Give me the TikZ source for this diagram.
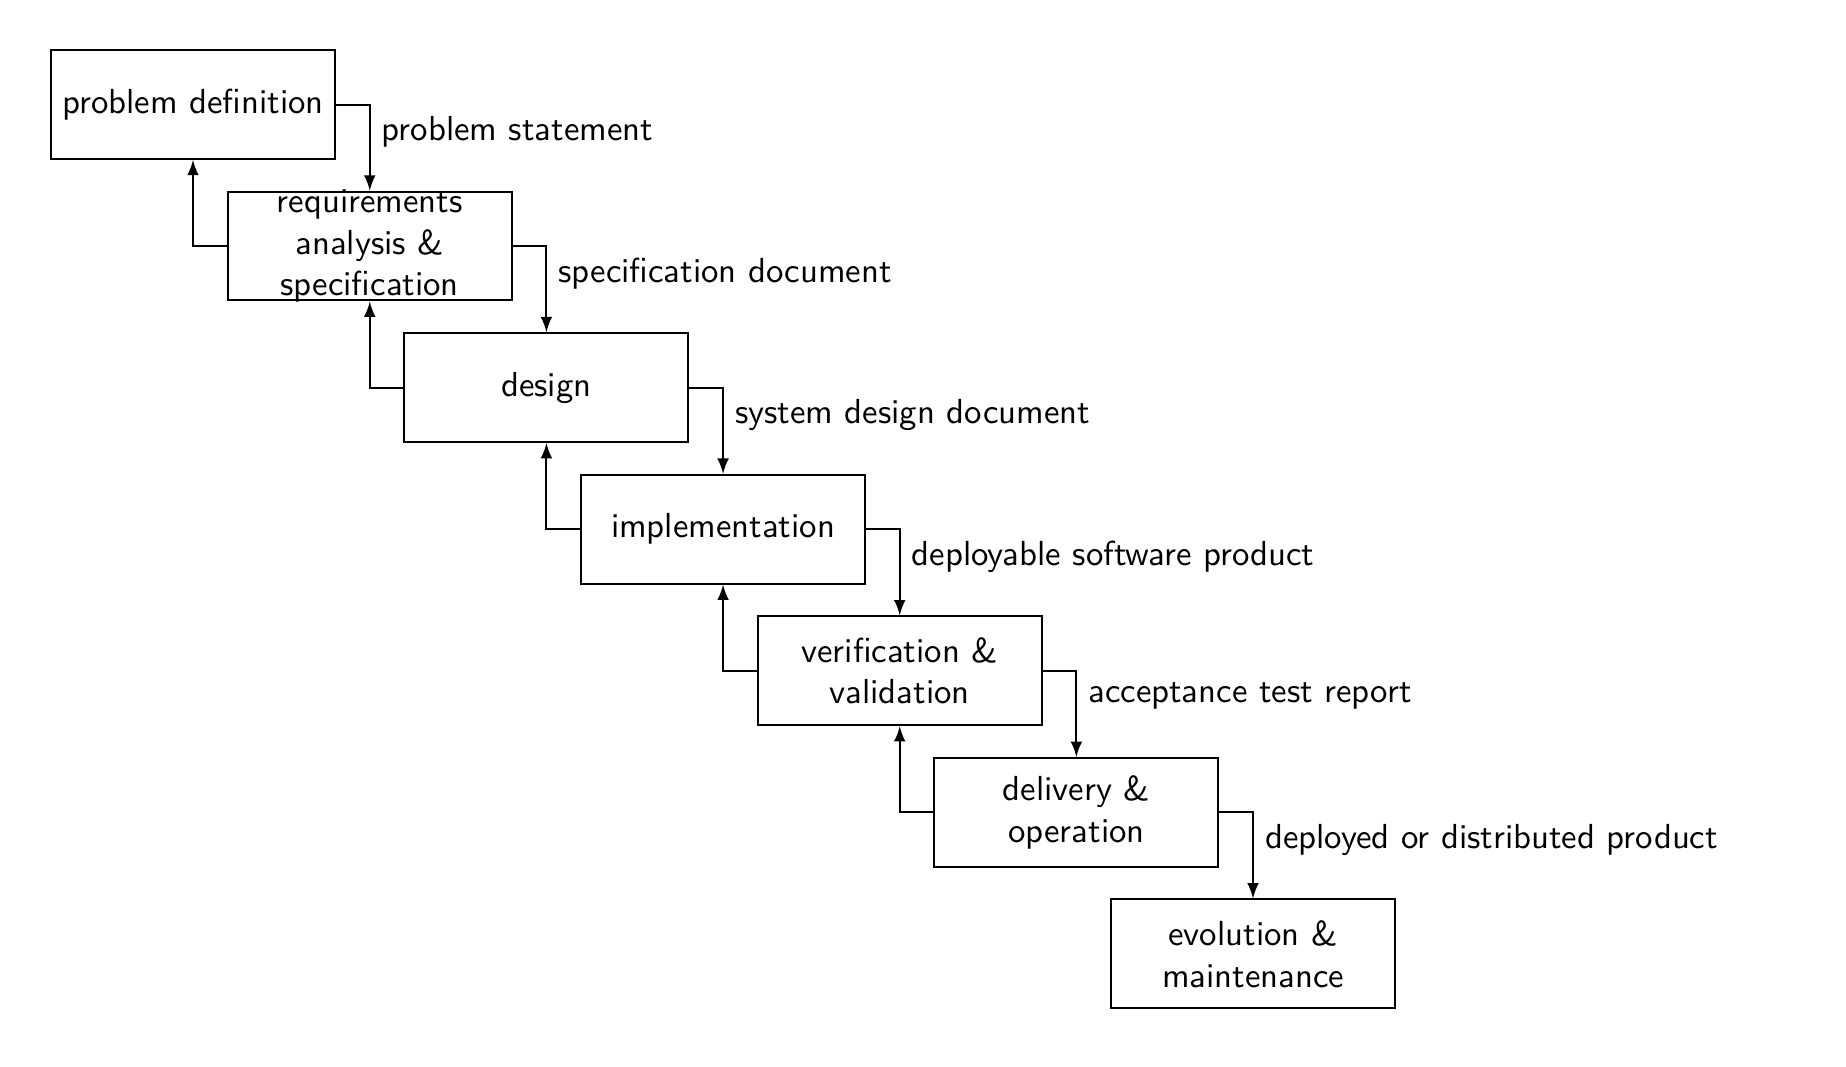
\documentclass[tikz,border=0pt]{standalone}
\usepackage{tikz}
\usetikzlibrary{arrows}
\renewcommand{\familydefault}{\sfdefault}
\tikzset{
         stage/.style={draw,minimum width=3cm,minimum height=1.15cm,
                       label={[align=center]center:#1}},
         flowlabel/.style={below right}
        }

\begin{document}
\begin{tikzpicture}[>=latex,semithick,font=\fontsize{10.45}{12.6}\selectfont]
\useasboundingbox(0,0)rectangle(19.51,-11.27);
%stages
\node[stage={problem definition}](pd)at(2.04,-1.105){};
\node[stage={requirements\\analysis \&\\specification}](ras)at(3.908,-2.601){};
\node[stage={design}](des)at(5.775,-4.097){};
\node[stage={implementation}](imp)at(7.642,-5.593){};
\node[stage={verification \&\\validation}](vv)at(9.509,-7.089){};
\node[stage={delivery \&\\operation}](do)at(11.376,-8.585){};
\node[stage={evolution \&\\maintenance}](em)at(13.243,-10.081){};
%forward arrows
\draw[->](pd.east)-|node[flowlabel]{problem statement}(ras.north);
\draw[->](ras.east)-|node[flowlabel]{specification document}(des.north);
\draw[->](des.east)-|node[flowlabel]{system design document}(imp.north);
\draw[->](imp.east)-|node[flowlabel]{deployable software product}(vv.north);
\draw[->](vv.east)-|node[flowlabel]{acceptance test report}(do.north);
\draw[->](do.east)-|node[flowlabel]{deployed or distributed product}(em.north);
%feedback arrows
\draw[->](ras.west)-|(pd.south);
\draw[->](des.west)-|(ras.south);
\draw[->](imp.west)-|(des.south);
\draw[->](vv.west)-|(imp.south);
\draw[->](do.west)-|(vv.south);
\end{tikzpicture}
\end{document}
